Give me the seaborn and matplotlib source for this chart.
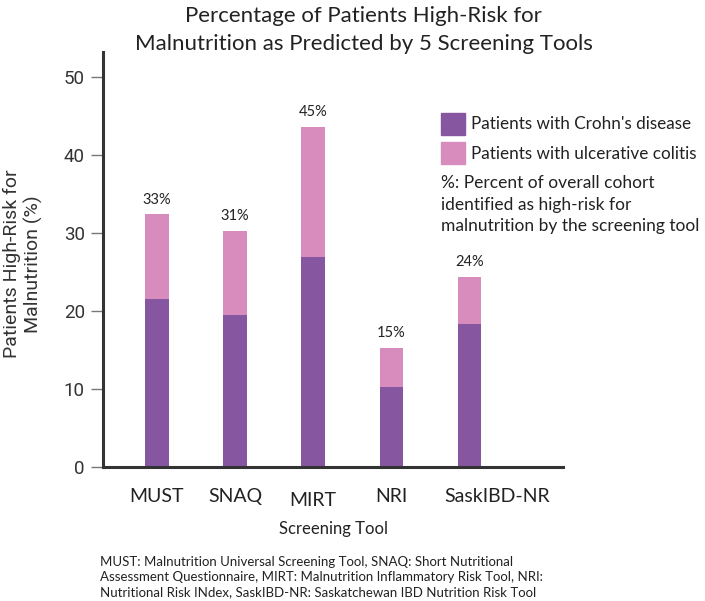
import matplotlib
matplotlib.use("Agg")
import matplotlib.pyplot as plt
import matplotlib.patches as mpatches
import matplotlib.transforms as mtransforms
import seaborn as sns
import pandas as pd

tools = ["MUST", "SNAQ", "MIRT", "NRI", "SaskIBD-NR"]
crohns = [21.6, 19.5, 27.0, 10.2, 18.3]
ulcerative = [10.8, 10.8, 16.6, 5.1, 6.1]
overall_pct = ["33%", "31%", "45%", "15%", "24%"]

sns.set_theme(style="white")
plt.rcParams["font.family"] = ["Lato", "DejaVu Sans"]

PURPLE = "#8756A0"
PINK = "#D88CBE"
DARK = "#222222"
AXIS = "#333333"

df = pd.DataFrame({"tool": tools, "cd": crohns, "uc": ulcerative})
df["total"] = df["cd"] + df["uc"]

fig = plt.figure(figsize=(7.05, 6.01), dpi=100)
ax = fig.add_axes([0.146, 0.223, 0.653, 0.690])

sns.barplot(data=df, x="tool", y="total", color=PINK, width=0.3, ax=ax,
            saturation=1, linewidth=0, edgecolor="none")
sns.barplot(data=df, x="tool", y="cd", color=PURPLE, width=0.3, ax=ax,
            saturation=1, linewidth=0, edgecolor="none")

for i, (t, lab) in enumerate(zip(df["total"], overall_pct)):
    ax.text(i, t + 1.0, lab, ha="center", va="bottom", fontsize=10.5, color=DARK)

ax.set_xlim(-0.69, 5.2)
ax.set_ylim(0, 53.2)
ax.set_yticks([0, 10, 20, 30, 40, 50])
ax.tick_params(axis="y", which="both", left=True, length=9, width=1, color="#777777",
               labelsize=13.5, labelcolor=AXIS, pad=4)
for lab in ax.get_yticklabels():
    lab.set_fontfamily(["Roboto", "DejaVu Sans"])
ax.tick_params(axis="x", bottom=False, labelsize=14, labelcolor=DARK, pad=9)
xlabs = ax.get_xticklabels()
# slight hand-placed offsets as in the reference
xlabs[2].set_transform(xlabs[2].get_transform() + mtransforms.ScaledTranslation(0, -4 / 100, fig.dpi_scale_trans))
xlabs[4].set_transform(xlabs[4].get_transform() + mtransforms.ScaledTranslation(28 / 100, 0, fig.dpi_scale_trans))
for s in ["top", "right"]:
    ax.spines[s].set_visible(False)
for s in ["left", "bottom"]:
    ax.spines[s].set_color(AXIS)
    ax.spines[s].set_linewidth(2.2)

ax.set_xlabel("Screening Tool", fontsize=12, color=DARK, labelpad=9)
ax.set_ylabel("Patients High-Risk for\nMalnutrition (%)", fontsize=14, color=AXIS,
              family=["Roboto", "DejaVu Sans"], linespacing=1.22)
ax.yaxis.set_label_coords(-0.13, 0.49)

fig.suptitle("Percentage of Patients High-Risk for\nMalnutrition as Predicted by 5 Screening Tools",
             x=0.516, y=0.99, fontsize=16, color=DARK, linespacing=1.5)

handles = [mpatches.Patch(color=PURPLE, label="Patients with Crohn's disease"),
           mpatches.Patch(color=PINK, label="Patients with ulcerative colitis")]
fig.legend(handles=handles, loc="upper left", bbox_to_anchor=(0.604, 0.838),
           frameon=False, fontsize=12.3, handlelength=1.4, handleheight=1.6,
           handletextpad=0.35, labelspacing=0.45, labelcolor=DARK)

fig.text(0.625, 0.708, "%: Percent of overall cohort\nidentified as high-risk for\nmalnutrition by the screening tool",
         fontsize=12.5, color=DARK, va="top", ha="left", linespacing=1.42)

fig.text(0.142, 0.075, "MUST: Malnutrition Universal Screening Tool, SNAQ: Short Nutritional\n"
         "Assessment Questionnaire, MIRT: Malnutrition Inflammatory Risk Tool, NRI:\n"
         "Nutritional Risk INdex, SaskIBD-NR: Saskatchewan IBD Nutrition Risk Tool",
         fontsize=9.5, color=DARK, va="top", ha="left", linespacing=1.3)

fig.savefig("out.png", dpi=100)
